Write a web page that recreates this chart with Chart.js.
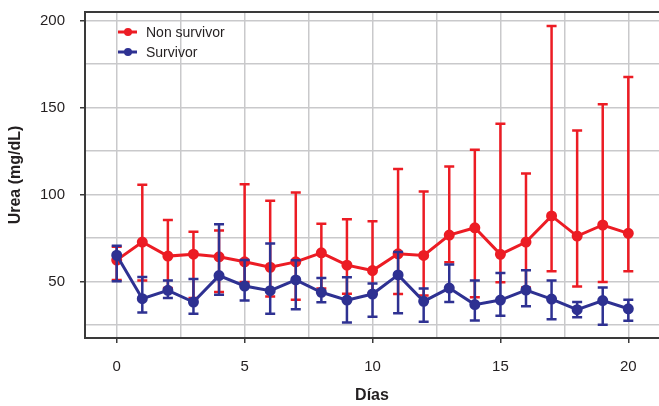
<!DOCTYPE html>
<html>
<head>
<meta charset="utf-8">
<script src="https://cdn.jsdelivr.net/npm/chart.js@4/dist/chart.umd.min.js"></script>
<style>
  html, body { margin: 0; padding: 0; background: #fff; }
  #wrap { width: 659px; height: 406px; }
</style>
</head>
<body>
<div id="wrap"><canvas id="ureaChart"></canvas></div>
<script>
/* Data */
const days = [0,1,2,3,4,5,6,7,8,9,10,11,12,13,14,15,16,17,18,19,20];

const nonSurvMean = [62.3,72.7,64.6,65.7,64.2,61.3,58.2,61.3,66.5,59.4,56.3,65.9,65.0,76.7,80.9,65.6,72.7,87.7,76.1,82.5,77.7];
const nonSurvLow  = [50.8,50.5,46.2,40.5,43.9,49.7,41.3,39.5,45.9,43.0,43.2,42.8,41.9,61.1,40.9,49.5,46.6,55.9,47.1,49.7,55.9];
const nonSurvHigh = [70.0,105.6,85.4,78.6,79.4,106.0,96.4,101.2,83.2,85.8,84.6,114.7,101.7,116.2,125.8,140.7,112.1,197.0,136.8,152.0,167.6];

const survMean = [65.1,40.1,44.9,38.2,53.4,47.4,44.7,50.9,43.8,39.3,42.8,53.8,38.6,46.2,36.7,39.3,45.1,39.9,33.8,39.0,34.3];
const survLow  = [50.1,32.2,40.5,31.5,42.4,39.1,31.5,34.1,38.0,26.4,29.7,31.8,26.8,38.2,27.6,30.3,35.7,28.3,29.5,25.1,27.4];
const survHigh = [70.6,52.6,50.5,51.5,82.9,62.3,71.9,62.2,52.0,52.4,48.8,66.9,45.9,59.8,50.5,54.9,56.5,50.5,38.2,46.6,39.5];

const xTickLabels = [0, 5, 10, 15, 20];
const yTickLabels = [50, 100, 150, 200];

const RED = "#ec1c24";
const BLUE = "#2e3192";
const AXIS = "#3a3a3a";
const GRID = "#c9c9cb";
const FONT = "'Liberation Sans', Arial, sans-serif";

function pts(vals) {
    return days.map((d, i) => ({ x: d, y: vals[i] }));
}

/* error bars, drawn right after each dataset */
const errorBars = {
    id: "errorBars",
    afterDatasetDraw(chart, args) {
        const ds = chart.data.datasets[args.index];
        if (!ds.errLow) return;
        const c = chart.ctx;
        const xs = chart.scales.x, ys = chart.scales.y;
        c.save();
        c.strokeStyle = ds.borderColor;
        c.lineWidth = 2.5;
        days.forEach((d, i) => {
            const px = xs.getPixelForValue(d);
            const lo = ys.getPixelForValue(ds.errLow[i]);
            const hi = ys.getPixelForValue(ds.errHigh[i]);
            c.beginPath();
            c.moveTo(px, lo); c.lineTo(px, hi);
            c.moveTo(px - 5, lo); c.lineTo(px + 5, lo);
            c.moveTo(px - 5, hi); c.lineTo(px + 5, hi);
            c.stroke();
        });
        // redraw the points so they sit on top of the bars
        c.fillStyle = ds.borderColor;
        days.forEach((d, i) => {
            c.beginPath();
            c.arc(xs.getPixelForValue(d), ys.getPixelForValue(ds.data[i].y), 4, 0, Math.PI * 2);
            c.fill();
        });
        c.restore();
    }
};

/* top frame line + legend inside plot */
const frameAndLegend = {
    id: "frameAndLegend",
    afterDraw(chart) {
        const c = chart.ctx;
        const a = chart.chartArea;
        c.save();
        c.strokeStyle = AXIS;
        c.lineWidth = 2;
        c.beginPath();
        c.moveTo(a.left - 1, a.top);
        c.lineTo(a.right, a.top);
        c.stroke();

        c.font = "14px " + FONT;
        c.textBaseline = "middle";
        chart.data.datasets.forEach((ds, i) => {
            const y = a.top + 20 + i * 20;
            const x = a.left + 33;
            c.strokeStyle = ds.borderColor;
            c.lineWidth = 3;
            c.beginPath();
            c.moveTo(x, y); c.lineTo(x + 19, y);
            c.stroke();
            c.fillStyle = ds.borderColor;
            c.beginPath();
            c.arc(x + 10, y, 4, 0, Math.PI * 2);
            c.fill();
            c.fillStyle = "#231f20";
            c.fillText(ds.label, x + 28, y + 1);
        });
        c.restore();
    }
};

const tickColor = (ctx) => {
    const v = ctx.tick ? ctx.tick.value : null;
    return v !== null && (xTickLabels.includes(v) || yTickLabels.includes(v)) ? AXIS : "rgba(0,0,0,0)";
};

new Chart(document.getElementById("ureaChart"), {
    type: "line",
    data: {
        datasets: [
            {
                label: "Non survivor",
                data: pts(nonSurvMean),
                errLow: nonSurvLow,
                errHigh: nonSurvHigh,
                borderColor: RED,
                backgroundColor: RED,
                borderWidth: 3,
                pointRadius: 4,
                tension: 0,
                order: 2
            },
            {
                label: "Survivor",
                data: pts(survMean),
                errLow: survLow,
                errHigh: survHigh,
                borderColor: BLUE,
                backgroundColor: BLUE,
                borderWidth: 3,
                pointRadius: 4,
                tension: 0,
                order: 1
            }
        ]
    },
    options: {
        responsive: true,
        maintainAspectRatio: false,
        animation: false,
        layout: { autoPadding: false, padding: { top: 12, right: 0, left: 0, bottom: 0 } },
        plugins: {
            legend: { display: false },
            tooltip: { enabled: false }
        },
        scales: {
            x: {
                type: "linear",
                min: -1.24,
                max: 21.2,
                afterFit(s) { s.height = 68; s.paddingLeft = 0; s.paddingRight = 0; },
                ticks: {
                    stepSize: 2.5,
                    includeBounds: false,
                    padding: 15,
                    color: "#231f20",
                    font: { family: FONT, size: 15 },
                    callback: v => xTickLabels.includes(v) ? String(v) : ""
                },
                grid: { color: GRID, lineWidth: 1.5, tickLength: 5, tickColor: tickColor, tickWidth: 1.5 },
                border: { color: AXIS, width: 2 },
                title: {
                    display: true,
                    text: "Días",
                    color: "#231f20",
                    font: { family: FONT, size: 16, weight: "bold" },
                    padding: { top: 0, bottom: 1 }
                }
            },
            y: {
                min: 17.5,
                max: 205,
                afterFit(s) { s.width = 85; s.paddingTop = 0; s.paddingBottom = 0; },
                ticks: {
                    stepSize: 25,
                    includeBounds: false,
                    padding: 15,
                    color: "#231f20",
                    font: { family: FONT, size: 15 },
                    callback: v => yTickLabels.includes(v) ? String(v) : ""
                },
                grid: { color: GRID, lineWidth: 1.5, tickLength: 5, tickColor: tickColor, tickWidth: 1.5 },
                border: { color: AXIS, width: 2 },
                title: {
                    display: true,
                    text: "Urea (mg/dL)",
                    color: "#231f20",
                    font: { family: FONT, size: 16, weight: "bold" },
                    padding: { top: 6, bottom: 0 }
                }
            }
        }
    },
    plugins: [errorBars, frameAndLegend]
});
</script>
</body>
</html>
